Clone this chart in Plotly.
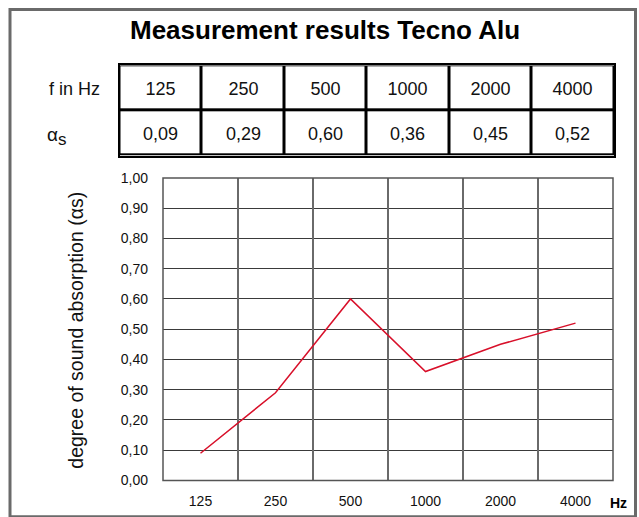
import plotly.graph_objects as go

# ---- data ----
frequencies = ["125", "250", "500", "1000", "2000", "4000"]
alpha_s = [0.09, 0.29, 0.60, 0.36, 0.45, 0.52]
y_ticks = [0.0, 0.1, 0.2, 0.3, 0.4, 0.5, 0.6, 0.7, 0.8, 0.9, 1.0]
y_tick_labels = [f"{v:.2f}".replace(".", ",") for v in y_ticks]
alpha_labels = [f"{v:.2f}".replace(".", ",") for v in alpha_s]
table_rows = [frequencies, alpha_labels]

W, H = 639, 535
FONT = "Liberation Sans"
OFF, SC = 9.0, 0.965   # empirical vertical mapping of the capture


def px(x):
    return x / W


def py(y):
    yd = (y - OFF) / SC
    return (H - yd) / H


x_idx = list(range(len(frequencies)))
row_idx = list(range(len(table_rows)))

fig = go.Figure()

# ---- table drawn as a heatmap (black underlay + white cells with gaps) ----
fig.add_trace(go.Heatmap(
    x=x_idx, y=row_idx, z=[alpha_s for _ in table_rows],
    colorscale=[[0, "black"], [1, "black"]], showscale=False,
    hoverinfo="skip", xaxis="x3", yaxis="y3",
))
fig.add_trace(go.Heatmap(
    x=x_idx, y=row_idx, z=[alpha_s for _ in table_rows],
    colorscale=[[0, "white"], [1, "white"]], showscale=False,
    xgap=3, ygap=3, text=table_rows, texttemplate="%{text}",
    textfont=dict(family=FONT, size=18, color="#111"),
    hoverinfo="skip", xaxis="x3", yaxis="y3",
))

# ---- line ----
fig.add_trace(go.Scatter(
    x=x_idx, y=alpha_s, mode="lines",
    line=dict(color="#d8102a", width=1.5),
    xaxis="x", yaxis="y", showlegend=False, hoverinfo="skip",
))
# invisible trace for the band-boundary grid axis
fig.add_trace(go.Scatter(
    x=x_idx, y=alpha_s, mode="lines", line=dict(width=0),
    xaxis="x2", yaxis="y", showlegend=False, hoverinfo="skip",
))

xdom = [px(163), px(613)]
ydom = [py(479), py(178)]

fig.update_layout(
    width=W, height=H, autosize=False,
    margin=dict(l=0, r=0, t=0, b=0, pad=0),
    paper_bgcolor="white", plot_bgcolor="white",
    font=dict(family=FONT, color="#111"),
    xaxis=dict(domain=xdom, range=[-0.5, 5.5], tickmode="array",
               tickvals=x_idx, ticktext=frequencies, showgrid=False,
               zeroline=False, showline=False, ticks="",
               ticklabelstandoff=11,
               tickfont=dict(family=FONT, size=14, color="#111"),
               anchor="y", fixedrange=True),
    xaxis2=dict(domain=xdom, range=[-0.5, 5.5], overlaying="x",
                tickmode="linear", tick0=-0.5, dtick=1, showgrid=True,
                gridcolor="#6a6a6a", gridwidth=1.5, showticklabels=False,
                zeroline=False, showline=False, ticks="", anchor="y",
                side="bottom", fixedrange=True),
    yaxis=dict(domain=ydom, range=[0, 1], tickmode="array",
               tickvals=y_ticks, ticktext=y_tick_labels, showgrid=True,
               gridcolor="#3a3a3a", gridwidth=1.2, zeroline=False,
               showline=False, ticks="", ticklabelstandoff=14,
               tickfont=dict(family=FONT, size=14, color="#111"),
               fixedrange=True),
    xaxis3=dict(domain=[px(119.5), px(614)], range=[-0.5, 5.5],
                showgrid=False, zeroline=False, showticklabels=False,
                ticks="", showline=True, mirror=True, linewidth=1.5,
                linecolor="black", anchor="y3", fixedrange=True),
    yaxis3=dict(domain=[py(156), py(66)], range=[1.5, -0.5],
                showgrid=False, zeroline=False, showticklabels=False,
                ticks="", showline=True, mirror=True, linewidth=1.5,
                linecolor="black", anchor="x3", fixedrange=True),
)

# plot border
fig.add_shape(type="rect", xref="paper", yref="paper",
              x0=xdom[0], x1=xdom[1], y0=ydom[0], y1=ydom[1],
              line=dict(color="#555", width=1.5), layer="above")

# outer frame
fig.add_shape(type="rect", xref="paper", yref="paper",
              x0=px(10), x1=px(635.5), y0=py(515), y1=(H - 1.5) / H,
              line=dict(color="#6a6a6a", width=3), layer="below")

# title
fig.add_annotation(text="<b>Measurement results Tecno Alu</b>",
                   xref="paper", yref="paper", x=px(325), y=py(31),
                   showarrow=False, xanchor="center", yanchor="middle",
                   font=dict(family=FONT, size=26, color="#000"))
# row labels
fig.add_annotation(text="f in Hz", xref="paper", yref="paper",
                   x=px(74), y=py(90), showarrow=False,
                   xanchor="center", yanchor="middle",
                   font=dict(family=FONT, size=18, color="#111"))
fig.add_annotation(text="α", xref="paper", yref="paper",
                   x=px(45), y=py(135), showarrow=False,
                   xanchor="left", yanchor="middle",
                   font=dict(family=FONT, size=19, color="#111"))
fig.add_annotation(text="s", xref="paper", yref="paper",
                   x=px(56), y=py(140), showarrow=False,
                   xanchor="left", yanchor="middle",
                   font=dict(family=FONT, size=17, color="#111"))
# y-axis title
fig.add_annotation(text="degree of sound absorption (αs)", xref="paper",
                   yref="paper", x=px(76), y=py(330), textangle=-90,
                   showarrow=False, xanchor="center", yanchor="middle",
                   font=dict(family=FONT, size=19.5, color="#111"))
# Hz unit
fig.add_annotation(text="<b>Hz</b>", xref="paper", yref="paper",
                   x=px(618), y=py(501), showarrow=False,
                   xanchor="center", yanchor="middle",
                   font=dict(family=FONT, size=14, color="#000"))

fig.write_html(
    "out.html",
    config={"displayModeBar": False},
    post_script=(
        "document.documentElement.style.margin='0';"
        "document.documentElement.style.overflow='hidden';"
        "document.body.style.margin='0';"
        "document.body.style.overflow='hidden';"
        "var gd=document.getElementById('{plot_id}');"
        "gd.style.position='absolute';gd.style.top='0px';gd.style.left='0px';"
    ),
)
